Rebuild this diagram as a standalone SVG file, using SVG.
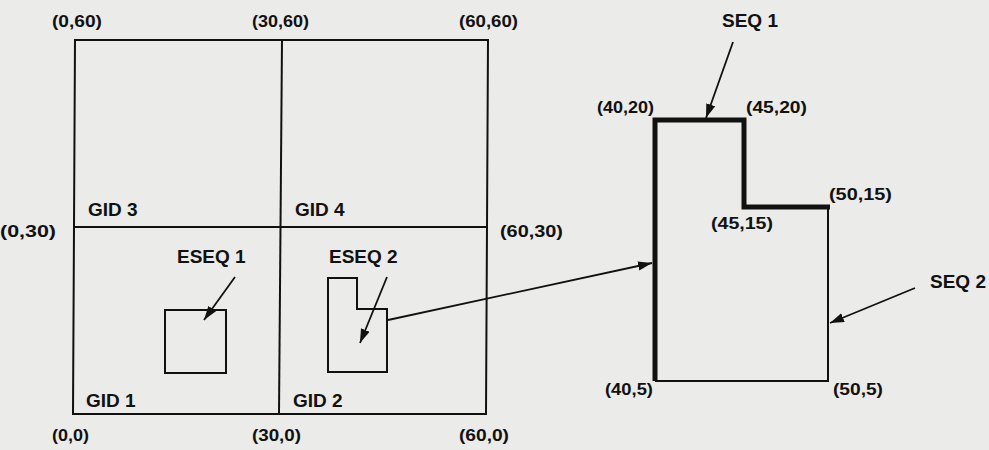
<svg xmlns="http://www.w3.org/2000/svg" width="989" height="450" viewBox="0 0 989 450">
<defs>
<style>
text{font-family:"Liberation Sans",Arial,sans-serif;font-weight:bold;fill:#111}
.w{font-size:19px}
.c{font-size:17px}
.thin{fill:none;stroke:#111;stroke-width:2}
.thick{fill:none;stroke:#111;stroke-width:5;stroke-linejoin:miter}
.arr{fill:none;stroke:#111;stroke-width:1.8;marker-end:url(#ah)}
</style>
<marker id="ah" viewBox="0 0 12 8" refX="12" refY="4" markerWidth="14" markerHeight="10" markerUnits="userSpaceOnUse" orient="auto">
<path d="M0,0 L12,4 L0,8 Z" fill="#111"/>
</marker>
</defs>
<rect width="989" height="450" fill="#ebebe9"/>
<g id="grid">
<polygon class="thin" points="75,40 488,40 486,414 73,414"/>
<line class="thin" x1="282" y1="40" x2="279" y2="414"/>
<line class="thin" x1="74" y1="227" x2="487" y2="227"/>
<text class="c" x="52" y="27" textLength="50" lengthAdjust="spacingAndGlyphs">(0,60)</text>
<text class="c" x="252" y="27" textLength="57" lengthAdjust="spacingAndGlyphs">(30,60)</text>
<text class="c" x="459" y="27" textLength="59" lengthAdjust="spacingAndGlyphs">(60,60)</text>
<text class="c" x="0" y="237" textLength="56" lengthAdjust="spacingAndGlyphs">(0,30)</text>
<text class="c" x="500" y="237" textLength="63" lengthAdjust="spacingAndGlyphs">(60,30)</text>
<text class="c" x="52" y="441" textLength="37" lengthAdjust="spacingAndGlyphs">(0,0)</text>
<text class="c" x="252" y="441" textLength="49" lengthAdjust="spacingAndGlyphs">(30,0)</text>
<text class="c" x="459" y="441" textLength="50" lengthAdjust="spacingAndGlyphs">(60,0)</text>
<text class="w" x="88" y="216">GID 3</text>
<text class="w" x="295" y="216">GID 4</text>
<text class="w" x="86" y="407">GID 1</text>
<text class="w" x="293" y="407">GID 2</text>
</g>
<g id="eseq1">
<rect class="thin" x="165" y="310" width="61" height="63"/>
<text class="w" x="177" y="263">ESEQ 1</text>
</g>
<g id="eseq2">
<polygon class="thin" points="328,278 357,278 357,309 387,309 387,372 328,372"/>
<text class="w" x="329" y="263">ESEQ 2</text>
</g>
<g id="seq">
<polyline class="thin" points="828,207 828,381 655,381"/>
<polyline class="thick" points="655,381 655,120 744,120 744,207 830,207"/>
<text class="c" x="597" y="113" textLength="57" lengthAdjust="spacingAndGlyphs">(40,20)</text>
<text class="c" x="746" y="113" textLength="61" lengthAdjust="spacingAndGlyphs">(45,20)</text>
<text class="c" x="711" y="229" textLength="62" lengthAdjust="spacingAndGlyphs">(45,15)</text>
<text class="c" x="829" y="200" textLength="63" lengthAdjust="spacingAndGlyphs">(50,15)</text>
<text class="c" x="605" y="395" textLength="48" lengthAdjust="spacingAndGlyphs">(40,5)</text>
<text class="c" x="833" y="395" textLength="50" lengthAdjust="spacingAndGlyphs">(50,5)</text>
<text class="w" x="722" y="27">SEQ 1</text>
<text class="w" x="930" y="288">SEQ 2</text>
</g>
<g id="connectors">
<line class="arr" x1="235" y1="277" x2="204" y2="320"/>
<line class="arr" x1="387" y1="277" x2="360" y2="343"/>
<line class="arr" x1="388" y1="320" x2="652" y2="263"/>
<line class="arr" x1="733" y1="42" x2="706" y2="118"/>
<line class="arr" x1="915" y1="288" x2="830" y2="323"/>
</g>
</svg>
